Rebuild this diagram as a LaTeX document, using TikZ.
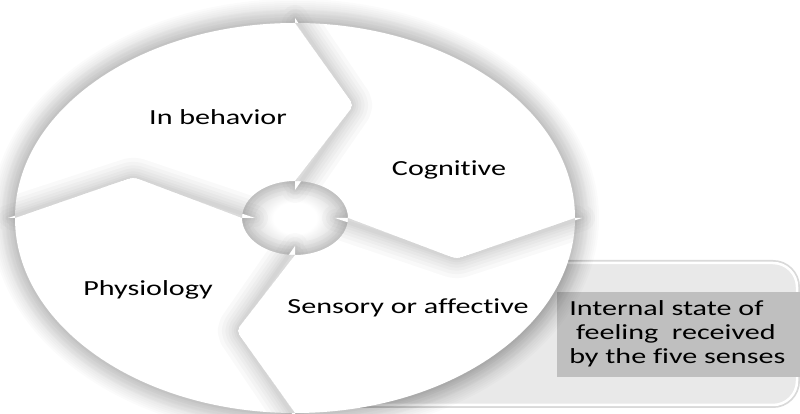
\documentclass[tikz,border=0pt]{standalone}
\usepackage{fontspec}
\setmainfont{Carlito}[Ligatures=NoCommon]
\usetikzlibrary{positioning}
\definecolor{CycleHole}{HTML}{C6C6C6}
\definecolor{NoteFill}{HTML}{E9E9E9}
\definecolor{NoteEdge}{HTML}{D9D9D9}
\definecolor{NoteBand}{HTML}{BFBFBF}
\pgfdeclareradialshading{holeshade}{\pgfpoint{0bp}{0bp}}{%
  color(0bp)=(white); color(9bp)=(white);
  color(25bp)=(CycleHole); color(50bp)=(CycleHole)}

% one block of the ring, #1 = angle where it starts (it runs clockwise)
\newcommand\cycleSegment[1]{%
  (#1:280 and 195)
  arc[start angle=#1, end angle=#1-90, x radius=280, y radius=195]
  -- (#1-90:287 and 200) [rounded corners=5pt]
  -- (#1-110:172 and 120) [sharp corners]
  -- (#1-90:40 and 28)
  -- (#1-90:53 and 37)
  arc[start angle=#1-90, end angle=#1, x radius=53, y radius=37]
  [rounded corners=5pt] -- (#1-20:172 and 120) [sharp corners]
  -- cycle}

\begin{document}
\begin{tikzpicture}[x=1pt,y=1pt,
    seglabel/.style={text=black,font=\fontsize{21.5}{24}\selectfont,xscale=1.4}]
  \clip (0,0) rectangle (800,414);

  % note panel, partly under the ring
  \draw[NoteEdge,line width=6pt,rounded corners=24pt]
    (330,9) rectangle (797,151);
  \fill[NoteFill,rounded corners=24pt]
    (330,9) rectangle (797,151);
  \draw[white,line width=2.5pt,rounded corners=24pt]
    (330,9) rectangle (797,151);
  \fill[NoteBand] (557,37) rectangle (800,122);

  \begin{scope}[shift={(295,196)}]
    % halo outside the ring
    \foreach \k in {1,...,12}{
      \fill[black,opacity=0.016]
        (0,0) ellipse[x radius=280+2*\k, y radius=195+2*\k];
    }
    \shade[shading=holeshade]
      (0,0) ellipse[x radius=60, y radius=44];

    % soft edge round every block
    \foreach \s in {180,90,0,-90}{
      \foreach \w in {26,18,11,5}{
        \draw[black,opacity=0.02,line width=\w pt,line join=round]
          \cycleSegment{\s};
      }
    }
    \foreach \s in {180,90,0,-90}{
      \fill[white] \cycleSegment{\s};
    }
    % each arrow throws its shadow on the next block
    \foreach \s in {180,90,0,-90}{
      \begin{scope}
        \clip \cycleSegment{\s};
        \foreach \w in {40,32,25,19,13,8,4}{
          \draw[black,opacity=0.022,line width=\w pt,line join=round]
            \cycleSegment{\s+90};
        }
      \end{scope}
    }
  \end{scope}

  \node[seglabel] (behavior) at (218,297) {In behavior};
  \node[seglabel] (cognitive) at (449,244) {Cognitive};
  \node[seglabel] (physiology) at (148,124) {Physiology};
  \node[seglabel] (sensory) at (408,106) {Sensory or affective};

  \node[seglabel,anchor=west,align=left,inner sep=0pt] (note) at (569,80)
    {Internal state of\\\ feeling\ \ received\\by the five senses};
\end{tikzpicture}
\end{document}
